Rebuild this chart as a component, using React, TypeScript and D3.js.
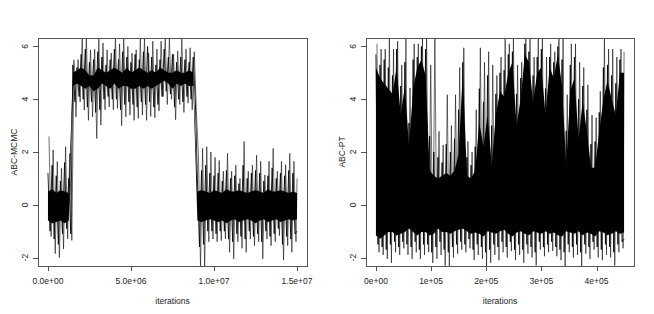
import React from 'react';
import * as d3 from 'd3';

// ABC-MCMC trace, binned every 2.5e5 iterations (0 .. 1.5e7)
const mcmcStep = 250000;
// highest / lowest excursion in each bin
const mcmcHi = [
  2.59, 2.08, 1.64, 1.38, 2.2, 1.95,
  5.49, 5.5, 6.33, 6.33, 5.87, 5.9, 6.33, 6.13, 5.87, 5.75, 6.33, 6.1, 6.33, 6.0,
  5.75, 5.87, 6.33, 6.33, 5.75, 6.2, 5.9, 6.2, 6.33, 6.3, 5.7, 5.83, 6.33, 5.9, 5.95, 5.8,
  1.9, 2.14, 2.2, 2.0, 1.8, 1.68, 1.27, 1.95, 1.27, 1.5, 1.0, 2.4, 1.27, 1.5, 1.88,
  1.65, 1.13, 1.65, 2.14, 1.27, 1.65, 1.52, 1.95, 1.65, 1.0,
];
const mcmcLo = [
  -1.2, -1.85, -2.0, -1.67, -1.29, -1.35,
  3.33, 3.9, 3.59, 3.2, 3.33, 2.51, 3.02, 3.6, 3.71, 3.6, 3.65, 3.0, 3.33, 3.4,
  3.2, 3.27, 3.4, 3.2, 3.35, 3.3, 3.55, 4.1, 3.8, 4.0, 3.22, 3.8, 3.5, 3.85, 3.6, 3.55,
  -2.4, -2.4, -1.4, -1.3, -1.4, -1.36, -1.29, -1.8, -2.05, -1.4, -1.65, -1.8, -1.3, -1.55, -1.4,
  -2.05, -1.3, -1.55, -1.4, -1.17, -2.1, -1.55, -1.8, -1.4, -1.3,
];
// secondary peaks / troughs in each bin
const mcmcHi2 = [
  1.2, 1.5, 1.1, 0.9, 1.6, 1.0,
  5.3, 5.2, 5.7, 5.9, 5.4, 5.5, 5.8, 5.6, 5.3, 5.5, 5.9, 5.5, 5.8, 5.6,
  5.4, 5.7, 5.5, 5.8, 6.0, 5.6, 5.3, 5.5, 5.9, 5.6, 5.7, 5.4, 5.6, 5.5, 5.4, 5.6,
  1.0, 1.3, 1.5, 1.2, 1.1, 1.2, 0.9, 1.3, 1.0, 1.1, 0.8, 1.5, 1.0, 1.2, 1.3,
  1.2, 0.9, 1.1, 1.4, 1.0, 1.2, 1.1, 1.3, 1.2, 0.8,
];
const mcmcLo2 = [
  -1.0, -1.3, -1.5, -1.1, -0.9, -1.1,
  3.9, 4.1, 4.0, 3.7, 3.9, 3.5, 3.6, 4.0, 4.1, 4.0, 4.0, 3.6, 3.8, 3.9,
  3.8, 3.7, 3.9, 3.8, 3.9, 3.7, 3.8, 4.1, 4.3, 4.2, 3.7, 4.0, 3.9, 4.1, 4.0, 3.9,
  -1.6, -1.5, -1.0, -1.0, -1.1, -1.0, -1.0, -1.3, -1.4, -1.1, -1.2, -1.3, -1.0, -1.2, -1.1,
  -1.4, -1.0, -1.2, -1.1, -0.9, -1.5, -1.2, -1.3, -1.1, -1.0,
];
// solid black band
const mcmcCoreHi = [
  0.5, 0.6, 0.45, 0.55, 0.5, 0.45,
  5.0, 5.1, 5.2, 5.1, 4.9, 4.9, 5.2, 5.1, 5.0, 5.1, 5.2, 5.1, 5.0, 5.2,
  5.0, 5.1, 5.2, 5.1, 5.0, 5.1, 5.0, 5.2, 5.1, 5.0, 5.0, 5.1, 5.0, 5.0, 5.1, 5.0,
  0.5, 0.55, 0.5, 0.45, 0.55, 0.5, 0.45, 0.6, 0.5, 0.5, 0.55, 0.5, 0.45, 0.5, 0.55,
  0.5, 0.45, 0.6, 0.5, 0.5, 0.55, 0.5, 0.45, 0.5, 0.45,
];
const mcmcCoreLo = [
  -0.6, -0.7, -0.65, -0.6, -0.7, -0.6,
  4.5, 4.6, 4.5, 4.4, 4.5, 4.3, 4.4, 4.6, 4.5, 4.4, 4.6, 4.4, 4.5, 4.5,
  4.4, 4.4, 4.5, 4.4, 4.5, 4.4, 4.5, 4.6, 4.7, 4.6, 4.4, 4.6, 4.5, 4.6, 4.5, 4.5,
  -0.6, -0.65, -0.6, -0.55, -0.6, -0.65, -0.6, -0.7, -0.6, -0.55, -0.65, -0.6, -0.55, -0.6, -0.7,
  -0.6, -0.55, -0.65, -0.6, -0.55, -0.65, -0.6, -0.55, -0.6, -0.55,
];

// ABC-PT trace, binned every 7500 iterations (0 .. 4.5e5)
const ptStep = 7500;
const ptHi = [
  6.1, 5.9, 5.9, 6.33, 5.9, 6.2, 5.3, 6.33, 4.43, 6.1, 6.1, 6.33, 6.33, 5.3, 6.33, 2.78,
  2.27, 4.17, 3.0, 4.17, 5.2, 5.95, 2.4, 2.0, 3.6, 5.95, 5.4, 5.8, 5.3, 4.9, 5.6, 6.33,
  6.1, 6.33, 5.3, 5.4, 6.33, 6.33, 5.6, 6.33, 6.33, 5.6, 6.1, 5.8, 6.33, 6.33, 4.17, 6.1,
  6.1, 5.4, 5.2, 4.55, 3.4, 3.3, 4.3, 6.33, 5.9, 5.9, 5.6, 5.9, 5.8,
];
const ptLo = [
  -1.8, -1.9, -2.05, -2.2, -1.8, -1.9, -1.65, -1.9, -2.05, -1.8, -2.05, -1.9, -1.8, -2.2, -2.05, -1.9,
  -2.3, -2.35, -2.0, -1.85, -1.7, -1.8, -1.65, -2.1, -1.9, -2.05, -2.35, -2.2, -1.9, -2.1, -1.8, -2.0,
  -1.75, -2.1, -1.9, -2.2, -1.85, -2.0, -2.3, -1.7, -1.95, -1.8, -1.75, -1.95, -2.1, -2.35, -1.8, -2.0,
  -1.9, -2.35, -1.85, -2.05, -1.7, -2.0, -2.1, -1.9, -2.0, -2.3, -1.8, -1.65, -1.55,
];
const ptHi2 = [
  5.7, 5.3, 5.5, 5.2, 4.9, 5.9, 4.5, 5.4, 3.1, 5.5, 5.6, 6.0, 5.9, 2.6, 2.0, 1.8,
  1.6, 2.3, 2.0, 2.5, 3.6, 5.4, 1.8, 1.5, 2.2, 4.4, 3.9, 4.9, 3.0, 4.2, 5.0, 5.1,
  5.7, 5.8, 4.2, 4.8, 6.1, 5.8, 4.9, 5.6, 5.9, 4.4, 5.6, 5.4, 6.0, 5.5, 2.8, 5.3,
  5.6, 4.0, 4.5, 3.6, 2.3, 2.4, 3.5, 5.2, 5.3, 4.9, 4.6, 5.5, 5.4,
];
const ptLo2 = [
  -1.5, -1.6, -1.7, -1.5, -1.4, -1.6, -1.4, -1.5, -1.6, -1.4, -1.7, -1.5, -1.5, -1.8, -1.6, -1.4,
  -1.7, -1.8, -1.6, -1.5, -1.4, -1.5, -1.3, -1.7, -1.5, -1.6, -1.8, -1.7, -1.5, -1.6, -1.4, -1.6,
  -1.4, -1.7, -1.5, -1.7, -1.5, -1.6, -1.8, -1.4, -1.6, -1.5, -1.4, -1.6, -1.7, -1.8, -1.5, -1.6,
  -1.5, -1.8, -1.5, -1.6, -1.4, -1.6, -1.7, -1.5, -1.6, -1.8, -1.5, -1.4, -1.3,
];
const ptCoreHi = [
  5.2, 4.8, 4.6, 4.4, 4.2, 5.2, 3.4, 4.5, 2.2, 4.4, 5.2, 5.5, 4.9, 1.3, 1.1, 1.0,
  1.1, 1.2, 1.1, 1.3, 1.9, 5.0, 1.1, 1.0, 1.3, 3.1, 2.2, 3.4, 1.5, 3.4, 4.3, 4.1,
  5.0, 5.4, 3.0, 4.0, 5.7, 5.4, 3.9, 5.0, 5.2, 3.4, 5.2, 4.8, 5.7, 4.5, 1.5, 4.3,
  4.8, 2.5, 3.9, 2.8, 1.4, 1.4, 2.8, 4.0, 4.7, 4.0, 3.4, 5.0, 5.0,
];
const ptCoreLo = [
  -1.16, -1.29, -1.16, -1.03, -1.03, -1.16, -1.1, -1.03, -0.9, -1.03, -1.16, -1.03, -1.03, -1.16, -1.1, -0.9,
  -1.03, -1.03, -1.1, -1.0, -0.95, -0.9, -1.0, -1.1, -1.05, -1.1, -1.2, -1.0, -1.05, -1.1, -1.0, -0.95,
  -1.1, -1.2, -1.05, -1.0, -1.1, -1.15, -1.0, -1.05, -1.1, -1.0, -1.1, -1.05, -1.15, -1.2, -1.0, -1.05,
  -1.1, -1.0, -1.15, -1.05, -1.1, -1.2, -1.0, -1.05, -1.15, -1.1, -1.0, -1.1, -1.05,
];

const yTicks = [-2, 0, 2, 4, 6];
const mcmcTicks = [0, 5e6, 1e7, 1.5e7];
const mcmcTickLabels = ['0.0e+00', '5.0e+06', '1.0e+07', '1.5e+07'];
const ptTicks = [0, 1e5, 2e5, 3e5, 4e5];
const ptTickLabels = ['0e+00', '1e+05', '2e+05', '3e+05', '4e+05'];

const font = '"Liberation Sans", Arial, Helvetica, sans-serif';

interface PanelProps {
  id: string;
  left: number;
  right: number;
  xDomain: [number, number];
  step: number;
  hi: number[];
  lo: number[];
  hi2: number[];
  lo2: number[];
  coreHi: number[];
  coreLo: number[];
  ticks: number[];
  tickLabels: string[];
  yLabel: string;
}

const top = 38;
const bottom = 266;

const Panel: React.FC<PanelProps> = ({
  id, left, right, xDomain, step, hi, lo, hi2, lo2, coreHi, coreLo, ticks, tickLabels, yLabel,
}) => {
  const x = d3.scaleLinear().domain(xDomain).range([left, right]);
  const y = d3.scaleLinear().domain([-2.32, 6.32]).range([bottom, top]);
  const n = Math.min(hi.length, lo.length, hi2.length, lo2.length, coreHi.length, coreLo.length);
  const line = d3.line();

  const core = d3.area<number>()
    .x(i => x(i * step))
    .y0(i => y(coreLo[i]))
    .y1(i => y(coreHi[i]))(d3.range(n)) || '';

  // zig-zag through the extremes, and a second one through the secondary peaks
  const zigA: [number, number][] = [];
  const zigB: [number, number][] = [];
  for (let i = 0; i < n; i++) {
    const x0 = i * step;
    if (i < n - 1) {
      zigA.push([x(x0 + step / 4), y(hi[i])]);
      zigA.push([x(x0 + (3 * step) / 4), y(lo[i])]);
      zigB.push([x(x0), y(hi2[i])]);
      zigB.push([x(x0 + step / 2), y(lo2[i])]);
    } else {
      zigA.push([x(x0), y(hi[i])]);
      zigB.push([x(x0), y(lo2[i])]);
    }
  }

  const midX = (left + right) / 2;
  const midY = (top + bottom) / 2;

  return (
    <g>
      <defs>
        <clipPath id={`clip-${id}`}>
          <rect x={left} y={top} width={right - left} height={bottom - top} />
        </clipPath>
      </defs>
      <g clipPath={`url(#clip-${id})`}>
        <path d={core} fill="#000" />
        <path d={line(zigA) || ''} fill="none" stroke="#000" strokeWidth={0.8} strokeOpacity={0.7} />
        <path d={line(zigB) || ''} fill="none" stroke="#000" strokeWidth={1} strokeOpacity={0.85} />
      </g>
      <rect x={left + 0.5} y={top + 0.5} width={right - left} height={bottom - top}
        fill="none" stroke="#555" strokeWidth={1} />
      {ticks.map((t, i) => (
        <g key={t}>
          <line x1={Math.round(x(t)) + 0.5} x2={Math.round(x(t)) + 0.5} y1={bottom} y2={bottom + 5} stroke="#555" />
          <text x={x(t)} y={284} textAnchor="middle" fontSize={8.5} fontFamily={font} fill="#222">
            {tickLabels[i]}
          </text>
        </g>
      ))}
      {yTicks.map(t => (
        <g key={t}>
          <line x1={left - 5} x2={left} y1={Math.round(y(t)) + 0.5} y2={Math.round(y(t)) + 0.5} stroke="#555" />
          <text transform={`translate(${left - 13},${y(t)}) rotate(-90)`} dy="0.35em"
            textAnchor="middle" fontSize={8.5} fontFamily={font} fill="#222">
            {t}
          </text>
        </g>
      ))}
      <text x={midX} y={303.5} textAnchor="middle" fontSize={8.5} fontFamily={font} fill="#222">
        iterations
      </text>
      <text transform={`translate(${left - 23.5},${midY}) rotate(-90)`} dy="0.35em"
        textAnchor="middle" fontSize={8.5} fontFamily={font} fill="#222">
        {yLabel}
      </text>
    </g>
  );
};

export default function App() {
  return (
    <div style={{ position: 'absolute', left: 0, top: 0 }}>
      <svg width={654} height={314} style={{ display: 'block', background: '#fff' }}>
        <Panel id="mcmc" left={38} right={307} xDomain={[-0.6e6, 1.56e7]} step={mcmcStep}
          hi={mcmcHi} lo={mcmcLo} hi2={mcmcHi2} lo2={mcmcLo2} coreHi={mcmcCoreHi} coreLo={mcmcCoreLo}
          ticks={mcmcTicks} tickLabels={mcmcTickLabels} yLabel="ABC-MCMC" />
        <Panel id="pt" left={366} right={634} xDomain={[-18000, 468000]} step={ptStep}
          hi={ptHi} lo={ptLo} hi2={ptHi2} lo2={ptLo2} coreHi={ptCoreHi} coreLo={ptCoreLo}
          ticks={ptTicks} tickLabels={ptTickLabels} yLabel="ABC-PT" />
      </svg>
    </div>
  );
}
